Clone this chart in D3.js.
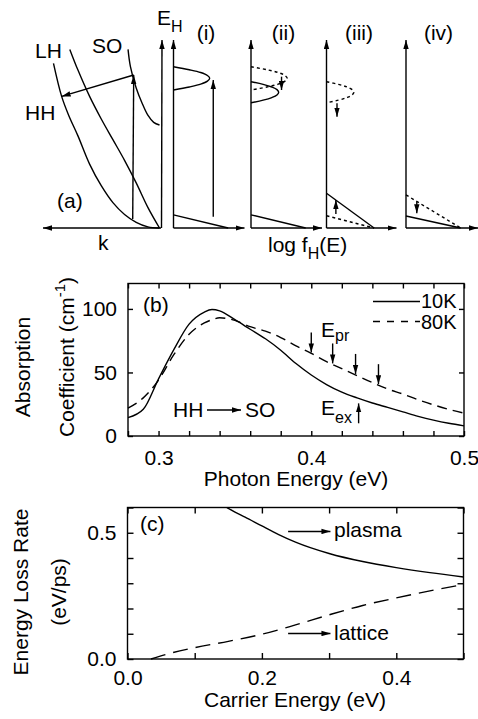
<!DOCTYPE html>
<html>
<head>
<meta charset="utf-8">
<script src="https://cdn.jsdelivr.net/npm/d3@7"></script>
<style>
  body { margin: 0; background: #fff; }
  svg text { font-family: "Liberation Sans", Arial, Helvetica, sans-serif; fill: #000; }
</style>
</head>
<body>
<svg id="fig" width="478" height="719"></svg>
<script>
// ---------- (a) band sketch, k and E_H in arbitrary units ----------
var hhK = [0, 0.1, 0.2, 0.3, 0.4, 0.5, 0.6, 0.7, 0.78, 0.84, 0.91];
var hhE = [0, 0.006, 0.03, 0.072, 0.135, 0.225, 0.34, 0.49, 0.6, 0.7, 0.876];
var lhK = [0, 0.1, 0.2, 0.3, 0.4, 0.5, 0.6, 0.7, 0.77];
var lhE = [0, 0.11, 0.24, 0.36, 0.47, 0.58, 0.70, 0.84, 0.95];
var soK = [0, 0.05, 0.1, 0.15, 0.2, 0.25, 0.27];
var soE = [0.548, 0.562, 0.6, 0.665, 0.745, 0.86, 0.95];
var pumpK = 0.23, scatterK = 0.84;

// hole distributions: [log f, E_H]
var hotPeak  = [[0,0.858],[0.223,0.842],[0.383,0.827],[0.478,0.811],[0.51,0.796],[0.478,0.781],[0.383,0.765],[0.223,0.75],[0,0.734]];
var coolPeak = [[0,0.778],[0.171,0.764],[0.293,0.75],[0.366,0.736],[0.39,0.722],[0.366,0.708],[0.293,0.694],[0.171,0.68],[0,0.666]];
var tailCold  = [[0,0.07],[0.77,0]];
var tailWarm3 = [[0,0.185],[0.68,0]];
var tailCold3 = [[0,0.065],[0.68,0]];
var tailWarm4 = [[0,0.176],[0.76,0]];
var tailCold4 = [[0,0.064],[0.76,0]];

// ---------- (b) absorption ----------
var photonE = [0.28,0.29,0.30,0.31,0.32,0.33,0.335,0.34,0.35,0.36,0.37,0.38,0.39,0.40,0.41,0.42,0.43,0.44,0.45,0.46,0.47,0.48,0.49,0.50];
var abs10K  = [14.5,21,45,68,88,97.5,99.5,98.5,91.5,84,76.5,67.5,57,48,40.5,34.5,30,26,22.5,19,15.5,12.5,10,8];
var abs80K  = [22,30,44,64,80,89,91.5,93,91,86,82.5,77.5,71,65,58.5,53,47.5,42,37,33,28.5,24.5,21,18];
var eprX = [0.400, 0.414, 0.429, 0.444];
var eexX = 0.431;
var bTicksX = [0.28,0.30,0.32,0.34,0.36,0.38,0.40,0.42,0.44,0.46,0.48,0.50];
var bLabelsX = [0.3, 0.4, 0.5];
var bLabelsY = [0, 50, 100];

// ---------- (c) energy loss ----------
var plasmaX = [0.148,0.16,0.175,0.2,0.225,0.25,0.3,0.35,0.4,0.45,0.5];
var plasmaY = [0.6,0.582,0.562,0.527,0.493,0.463,0.418,0.386,0.362,0.342,0.325];
var latticeX = [0.035,0.06,0.1,0.15,0.2,0.25,0.3,0.35,0.4,0.45,0.5];
var latticeY = [0.0,0.02,0.045,0.07,0.098,0.135,0.175,0.212,0.242,0.27,0.295];
var cTicks = [0,0.1,0.2,0.3,0.4,0.5];
var cTicksY = [0,0.1,0.2,0.3,0.4,0.5,0.6];
var cLabelsX = [0.0, 0.2, 0.4];
var cLabelsY = [0.0, 0.5];

var FS = 21, LW = 1.4;
var svg = d3.select("#fig");
svg.append("rect").attr("width", 478).attr("height", 719).attr("fill", "#fff");

svg.append("defs").append("marker")
    .attr("id", "ah")
    .attr("viewBox", "0 0 10 6")
    .attr("refX", 10).attr("refY", 3)
    .attr("markerWidth", 9).attr("markerHeight", 6)
    .attr("markerUnits", "userSpaceOnUse")
    .attr("orient", "auto")
    .append("path").attr("d", "M0,0L10,3L0,6Z").attr("fill", "#000");

function arrow(g, x1, y1, x2, y2) {
    g.append("line")
        .attr("x1", x1).attr("y1", y1).attr("x2", x2).attr("y2", y2)
        .attr("stroke", "#000").attr("stroke-width", LW)
        .attr("marker-end", "url(#ah)");
}
function label(g, x, y, txt, size, anchor) {
    return g.append("text").attr("x", x).attr("y", y)
        .attr("font-size", size || FS)
        .attr("text-anchor", anchor || "start")
        .text(txt);
}
function interp(xs, ys, x) {
    var i = Math.max(1, Math.min(xs.length - 1, d3.bisectRight(xs, x)));
    var t = (x - xs[i - 1]) / (xs[i] - xs[i - 1]);
    return ys[i - 1] + t * (ys[i] - ys[i - 1]);
}

// ================= (a) =================
var ga = svg.append("g");
var aE = d3.scaleLinear().domain([0, 1]).range([228, 40]);
var aK = d3.scaleLinear().domain([0, 1]).range([159.5, 43]);

// axes of band sketch
arrow(ga, 161, aE(0), aK(1), aE(0));
arrow(ga, 161.5, aE(0), 162, aE(1));

var bandLine = d3.line().x(function (d) { return aK(d[0]); }).y(function (d) { return aE(d[1]); })
    .curve(d3.curveCatmullRom);
[[hhK, hhE], [lhK, lhE], [soK, soE]].forEach(function (b) {
    ga.append("path")
        .attr("d", bandLine(b[0].map(function (k, i) { return [k, b[1][i]]; })))
        .attr("fill", "none").attr("stroke", "#000").attr("stroke-width", LW);
});
// pump and scattering
var pumpLo = interp(hhK, hhE, pumpK), pumpHi = interp(soK, soE, pumpK);
arrow(ga, aK(pumpK), aE(pumpLo) - 1, aK(pumpK) + 1, aE(pumpHi));
arrow(ga, aK(pumpK) + 1, aE(pumpHi), aK(scatterK), aE(interp(hhK, hhE, scatterK)));

label(ga, 35, 58, "LH");
label(ga, 92, 53, "SO");
label(ga, 25, 120, "HH");
label(ga, 57, 208, "(a)");
label(ga, 98, 250, "k");
var eh = label(ga, 157, 25, "E");
eh.append("tspan").attr("font-size", 16).attr("dy", 7).text("H");

// distribution stages
var stages = [
    { label: "(i)",   x0: 173.5, w: 71, lines: [{ d: hotPeak }, { d: tailCold }], arrows: [[0.56, 0.06, 0.56, 0.787]] },
    { label: "(ii)",  x0: 251,   w: 71, lines: [{ d: hotPeak, dot: true }, { d: coolPeak }, { d: tailCold }], arrows: [[0.43, 0.805, 0.43, 0.734]] },
    { label: "(iii)", x0: 326.5, w: 70, lines: [{ d: coolPeak, dot: true }, { d: tailWarm3 }, { d: tailCold3, dot: true }], arrows: [[0.15, 0.663, 0.15, 0.592], [0.134, 0.074, 0.134, 0.149]] },
    { label: "(iv)",  x0: 406,   w: 72, lines: [{ d: tailWarm4, dot: true }, { d: tailCold4 }], arrows: [[0.15, 0.14, 0.15, 0.078]] }
];
stages.forEach(function (s) {
    var fx = d3.scaleLinear().domain([0, 1]).range([s.x0, s.x0 + s.w]);
    var g = ga.append("g");
    arrow(g, fx(0), aE(0), fx(0), aE(1));
    arrow(g, fx(0), aE(0), Math.min(fx(1), 478), aE(0));
    var ln = d3.line().x(function (d) { return fx(d[0]); }).y(function (d) { return aE(d[1]); })
        .curve(d3.curveCatmullRom);
    s.lines.forEach(function (l) {
        g.append("path").attr("d", ln(l.d))
            .attr("fill", "none").attr("stroke", "#000").attr("stroke-width", LW)
            .attr("stroke-dasharray", l.dot ? "3,3" : null);
    });
    s.arrows.forEach(function (a) {
        arrow(g, fx(a[0]), aE(a[1]), fx(a[2]), aE(a[3]));
    });
    label(g, s.x0 + 32.5, 40, s.label, FS, "middle");
});
var lf = label(ga, 268, 252, "log f");
lf.append("tspan").attr("font-size", 16).attr("dy", 7).text("H");
lf.append("tspan").attr("dy", -7).text("(E)");

// ================= (b) =================
var gb = svg.append("g");
var bx = d3.scaleLinear().domain([0.28, 0.5]).range([128, 464]);
var by = d3.scaleLinear().domain([0, 120]).range([436, 283.5]);

function styleAxis(sel) {
    sel.select(".domain").remove();
    sel.selectAll("line").attr("stroke-width", LW);
    sel.selectAll("text").attr("font-size", FS)
        .attr("font-family", "'Liberation Sans', Arial, sans-serif");
}
gb.append("g").attr("transform", "translate(0,436)")
    .call(d3.axisBottom(bx).tickValues(bTicksX).tickSize(-5).tickFormat(""))
    .call(styleAxis);
gb.append("g").attr("transform", "translate(0,283.5)")
    .call(d3.axisTop(bx).tickValues(bTicksX).tickSize(-5).tickFormat(""))
    .call(styleAxis);
gb.append("g").attr("transform", "translate(128,0)")
    .call(d3.axisLeft(by).tickValues(bLabelsY).tickSize(-5).tickPadding(11))
    .call(styleAxis);
gb.append("g").attr("transform", "translate(464,0)")
    .call(d3.axisRight(by).tickValues(bLabelsY).tickSize(-5).tickFormat(""))
    .call(styleAxis);
gb.append("g").attr("transform", "translate(0,436)")
    .call(d3.axisBottom(bx).tickValues(bLabelsX).tickSize(0).tickPadding(14).tickFormat(d3.format(".1f")))
    .call(styleAxis);
gb.append("rect").attr("x", 128).attr("y", 283.5).attr("width", 336).attr("height", 152.5)
    .attr("fill", "none").attr("stroke", "#000").attr("stroke-width", LW);

var absLine = d3.line().x(function (d) { return bx(d[0]); }).y(function (d) { return by(d[1]); })
    .curve(d3.curveMonotoneX);
gb.append("path").attr("d", absLine(photonE.map(function (x, i) { return [x, abs10K[i]]; })))
    .attr("fill", "none").attr("stroke", "#000").attr("stroke-width", LW);
gb.append("path").attr("d", absLine(photonE.map(function (x, i) { return [x, abs80K[i]]; })))
    .attr("fill", "none").attr("stroke", "#000").attr("stroke-width", LW)
    .attr("stroke-dasharray", "10,6");

// legend
gb.append("line").attr("x1", 373).attr("x2", 420).attr("y1", 301.5).attr("y2", 301.5)
    .attr("stroke", "#000").attr("stroke-width", LW);
label(gb, 421, 308, "10K", 20);
gb.append("line").attr("x1", 373).attr("x2", 420).attr("y1", 321.5).attr("y2", 321.5)
    .attr("stroke", "#000").attr("stroke-width", LW).attr("stroke-dasharray", "7,7");
label(gb, 421, 329, "80K", 20);

label(gb, 143, 312, "(b)");
label(gb, 173, 417, "HH");
arrow(gb, 207, 410, 241, 410);
label(gb, 245, 417, "SO");

eprX.forEach(function (x) {
    var tip = by(interp(photonE, abs80K, x)) - 1;
    arrow(gb, bx(x), tip - 20, bx(x), tip);
});
var epr = label(gb, 321, 336.5, "E");
epr.append("tspan").attr("font-size", 16).attr("dy", 4).text("pr");
var eex = label(gb, 321, 415, "E");
eex.append("tspan").attr("font-size", 16).attr("dy", 8).text("ex");
arrow(gb, bx(eexX), by(10), bx(eexX), by(interp(photonE, abs10K, eexX)) + 5);

// axis titles
label(gb, 296, 486, "Photon Energy (eV)", FS, "middle");
label(gb, 0, 0, "Absorption", FS, "middle")
    .attr("transform", "translate(30,367) rotate(-90)");
var coef = label(gb, 0, 0, "Coefficient (cm", FS, "start")
    .attr("transform", "translate(74,437) rotate(-90)");
coef.append("tspan").attr("font-size", 15).attr("dy", -9).text("-1");
coef.append("tspan").attr("dy", 9).text(")");

// ================= (c) =================
var gc = svg.append("g");
var cx = d3.scaleLinear().domain([0, 0.5]).range([127.5, 463.5]);
var cy = d3.scaleLinear().domain([0, 0.6]).range([659, 507.5]);

gc.append("g").attr("transform", "translate(0,659)")
    .call(d3.axisBottom(cx).tickValues(cTicks).tickSize(-6).tickFormat(""))
    .call(styleAxis);
gc.append("g").attr("transform", "translate(0,507.5)")
    .call(d3.axisTop(cx).tickValues(cTicks).tickSize(-6).tickFormat(""))
    .call(styleAxis);
gc.append("g").attr("transform", "translate(127.5,0)")
    .call(d3.axisLeft(cy).tickValues(cTicksY).tickSize(-6).tickFormat(""))
    .call(styleAxis);
gc.append("g").attr("transform", "translate(463.5,0)")
    .call(d3.axisRight(cy).tickValues(cTicksY).tickSize(-6).tickFormat(""))
    .call(styleAxis);
gc.append("g").attr("transform", "translate(0,659)")
    .call(d3.axisBottom(cx).tickValues(cLabelsX).tickSize(0).tickPadding(11).tickFormat(d3.format(".1f")))
    .call(styleAxis);
gc.append("g").attr("transform", "translate(127.5,0)")
    .call(d3.axisLeft(cy).tickValues(cLabelsY).tickSize(0).tickPadding(11).tickFormat(d3.format(".1f")))
    .call(styleAxis);
gc.append("rect").attr("x", 127.5).attr("y", 507.5).attr("width", 336).attr("height", 151.5)
    .attr("fill", "none").attr("stroke", "#000").attr("stroke-width", LW);

var lossLine = d3.line().x(function (d) { return cx(d[0]); }).y(function (d) { return cy(d[1]); })
    .curve(d3.curveMonotoneX);
gc.append("path").attr("d", lossLine(plasmaX.map(function (x, i) { return [x, plasmaY[i]]; })))
    .attr("fill", "none").attr("stroke", "#000").attr("stroke-width", LW);
gc.append("path").attr("d", lossLine(latticeX.map(function (x, i) { return [x, latticeY[i]]; })))
    .attr("fill", "none").attr("stroke", "#000").attr("stroke-width", LW)
    .attr("stroke-dasharray", "15,8");

label(gc, 140, 531, "(c)");
arrow(gc, cx(0.239), cy(0.505), cx(0.302), cy(0.505));
label(gc, 334, 537, "plasma");
arrow(gc, cx(0.239), cy(0.101), cx(0.302), cy(0.101));
label(gc, 334, 639.5, "lattice");

label(gc, 295, 707, "Carrier Energy (eV)", FS, "middle");
label(gc, 0, 0, "Energy Loss Rate", FS, "middle")
    .attr("transform", "translate(28,592) rotate(-90)");
label(gc, 0, 0, "(eV/ps)", FS, "middle")
    .attr("transform", "translate(66,592) rotate(-90)");
</script>
</body>
</html>
